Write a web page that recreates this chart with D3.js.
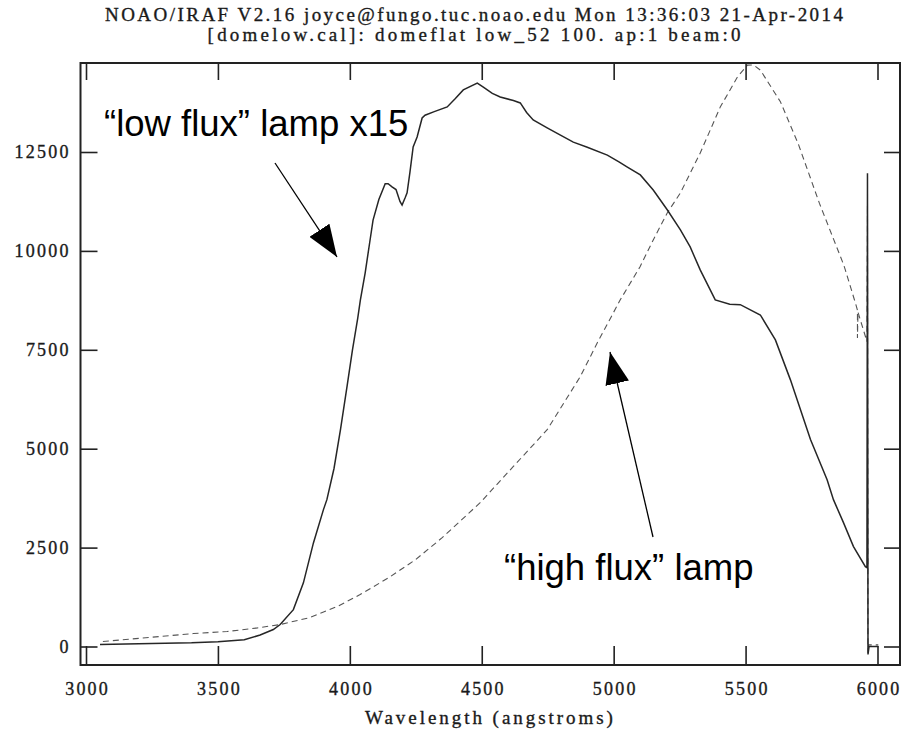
<!DOCTYPE html>
<html>
<head>
<meta charset="utf-8">
<script src="https://cdn.jsdelivr.net/npm/d3@7"></script>
<style>
  body { margin: 0; background: #fff; }
  svg { display: block; }
  .iraf { font-family: "Liberation Serif", "DejaVu Serif", serif; fill: #1a1a1a; stroke: #1a1a1a; stroke-width: 0.35px; }
  .note { font-family: "Liberation Sans", Arial, sans-serif; fill: #000; }
</style>
</head>
<body>
<svg id="chart" width="902" height="739"></svg>
<script>
// header lines printed by IRAF splot
const titleLines = [
    'NOAO/IRAF V2.16 joyce@fungo.tuc.noao.edu Mon 13:36:03 21-Apr-2014',
    '[domelow.cal]: domeflat low_52 100. ap:1 beam:0'
];
const xLabel = 'Wavelength (angstroms)';
const xTicks = [3000, 3500, 4000, 4500, 5000, 5500, 6000];
const yTicks = [0, 2500, 5000, 7500, 10000, 12500];

// "low flux" lamp x15 (solid)
const lowWave = [3053, 3200, 3400, 3500, 3600, 3660, 3710, 3736, 3786, 3824, 3862, 3900, 3913,
    3940, 3965, 3990, 4010, 4030, 4040, 4058, 4075, 4088, 4110, 4134, 4145, 4160, 4175, 4190,
    4198, 4210, 4217, 4228, 4240, 4255, 4274, 4285, 4320, 4369, 4400, 4430, 4483, 4506, 4540,
    4570, 4620, 4646, 4670, 4695, 4748, 4800, 4847, 4900, 4976, 5020, 5052, 5101, 5150, 5203,
    5253, 5290, 5328, 5385, 5440, 5480, 5556, 5613, 5670, 5746, 5809, 5833, 5871, 5909, 5954,
    5960, 5962, 5964, 5968, 6003];
const lowFlux = [50, 70, 93, 120, 170, 290, 430, 555, 932, 1608, 2618, 3460, 3712,
    4500, 5500, 6600, 7500, 8300, 8760, 9440, 10200, 10780, 11300, 11700, 11700, 11620, 11550, 11250,
    11160, 11350, 11470, 12000, 12630, 12880, 13360, 13430, 13520, 13640, 13850, 14070, 14240, 14140, 13980,
    13890, 13800, 13740, 13500, 13310, 13110, 12920, 12750, 12620, 12420, 12250, 12120, 11920, 11540, 11040,
    10530, 10100, 9520, 8760, 8650, 8640, 8380, 7750, 6740, 5230, 4217, 3712, 3131, 2525, 2020,
    1995, 11960, -200, 0, 0];

// "high flux" lamp (dashed)
const highWave = [3064, 3281, 3407, 3535, 3650, 3736, 3849, 3952, 4039, 4150, 4250, 4350, 4494,
    4619, 4748, 4873, 4938, 5025, 5100, 5150, 5203, 5253, 5328, 5404, 5469, 5507, 5530, 5556,
    5632, 5700, 5780, 5872, 5878, 5920, 5924, 5924, 5926, 5960, 5962, 5964, 5966, 6003];
const highFlux = [126, 253, 328, 379, 470, 555, 732, 1010, 1313, 1750, 2200, 2750, 3636,
    4545, 5480, 6818, 7677, 8763, 9600, 10278, 10960, 11465, 12475, 13636, 14394, 14697, 14700, 14571,
    13770, 12700, 11200, 9646, 9520, 8600, 8500, 7800, 8450, 7710, 11160, -165, 40, 40];

const svg = d3.select('#chart');
const frame = { left: 80.5, right: 900, top: 63, bottom: 665 };
const cell = 11.4; // IRAF text is drawn on a fixed character cell

const x = d3.scaleLinear().domain([3000, 6000]).range([86, 877.5]);
const y = d3.scaleLinear().domain([0, 12500]).range([646.5, 152]);

svg.append('rect').attr('width', 902).attr('height', 739).attr('fill', '#fff');

// title
svg.selectAll('text.title')
    .data(titleLines)
    .enter()
    .append('text')
    .attr('class', 'iraf title')
    .attr('x', 474)
    .attr('y', (d, i) => 21 + i * 20)
    .attr('text-anchor', 'middle')
    .attr('font-size', 19)
    .attr('textLength', d => d.length * cell - 3)
    .attr('lengthAdjust', 'spacing')
    .text(d => d);

svg.append('defs').append('clipPath').attr('id', 'clip')
    .append('rect')
    .attr('x', frame.left).attr('y', frame.top)
    .attr('width', frame.right - frame.left).attr('height', frame.bottom - frame.top);

const line = d3.line().x(d => x(d[0])).y(d => y(d[1]));

const plot = svg.append('g').attr('clip-path', 'url(#clip)');
plot.append('path')
    .datum(d3.zip(highWave, highFlux))
    .attr('d', line)
    .attr('fill', 'none')
    .attr('stroke', '#555')
    .attr('stroke-width', 1.1)
    .attr('stroke-dasharray', '6,4');
plot.append('path')
    .datum(d3.zip(lowWave, lowFlux))
    .attr('d', line)
    .attr('fill', 'none')
    .attr('stroke', '#262626')
    .attr('stroke-width', 1.5);

// axes: ticks inward on all four sides, labels left and bottom
const axisColor = '#222';
const fmt = d3.format('d');
const xBottom = d3.axisBottom(x).tickValues(xTicks).tickSize(-19).tickPadding(17).tickFormat(fmt);
const xTop = d3.axisTop(x).tickValues(xTicks).tickSize(-17).tickFormat('');
const yLeft = d3.axisLeft(y).tickValues(yTicks).tickSize(-17).tickPadding(12).tickFormat(fmt);
const yRight = d3.axisRight(y).tickValues(yTicks).tickSize(-16).tickFormat('');

function styleAxis(g) {
    g.select('.domain').remove();
    g.selectAll('.tick line').attr('stroke', axisColor).attr('stroke-width', 1.6);
    g.selectAll('.tick text')
        .attr('class', 'iraf')
        .attr('font-size', 18)
        .attr('textLength', d => fmt(d).length * 11.4 - 3)
        .attr('lengthAdjust', 'spacing');
}

svg.append('g').attr('transform', `translate(0,${frame.bottom})`).call(xBottom).call(styleAxis);
svg.append('g').attr('transform', `translate(0,${frame.top})`).call(xTop).call(styleAxis);
svg.append('g').attr('transform', `translate(${frame.left},0)`).call(yLeft).call(styleAxis);
svg.append('g').attr('transform', `translate(${frame.right},0)`).call(yRight).call(styleAxis);

svg.append('rect')
    .attr('x', frame.left).attr('y', frame.top)
    .attr('width', frame.right - frame.left).attr('height', frame.bottom - frame.top)
    .attr('fill', 'none')
    .attr('stroke', axisColor)
    .attr('stroke-width', 2);

svg.append('text')
    .attr('class', 'iraf')
    .attr('x', 489)
    .attr('y', 724)
    .attr('text-anchor', 'middle')
    .attr('font-size', 19)
    .attr('textLength', xLabel.length * cell - 3)
    .attr('lengthAdjust', 'spacing')
    .text(xLabel);

// annotations added on top of the plot
svg.append('defs').append('marker')
    .attr('id', 'head')
    .attr('viewBox', '0 0 32 24')
    .attr('refX', 32).attr('refY', 12)
    .attr('markerWidth', 32).attr('markerHeight', 24)
    .attr('markerUnits', 'userSpaceOnUse')
    .attr('orient', 'auto')
    .append('path')
    .attr('d', 'M0,0L32,12L0,24Z')
    .attr('fill', '#000');

const notes = [
    { text: '\u201clow flux\u201d lamp x15', tx: 104, ty: 136, from: [275, 163], to: [337, 257] },
    { text: '\u201chigh flux\u201d lamp', tx: 504, ty: 580, from: [653, 537], to: [610, 352] }
];

notes.forEach(n => {
    svg.append('text')
        .attr('class', 'note')
        .attr('x', n.tx)
        .attr('y', n.ty)
        .attr('font-size', 36.5)
        .text(n.text);
    svg.append('line')
        .attr('x1', n.from[0]).attr('y1', n.from[1])
        .attr('x2', n.to[0]).attr('y2', n.to[1])
        .attr('stroke', '#000')
        .attr('stroke-width', 1.3)
        .attr('marker-end', 'url(#head)');
});
</script>
</body>
</html>
